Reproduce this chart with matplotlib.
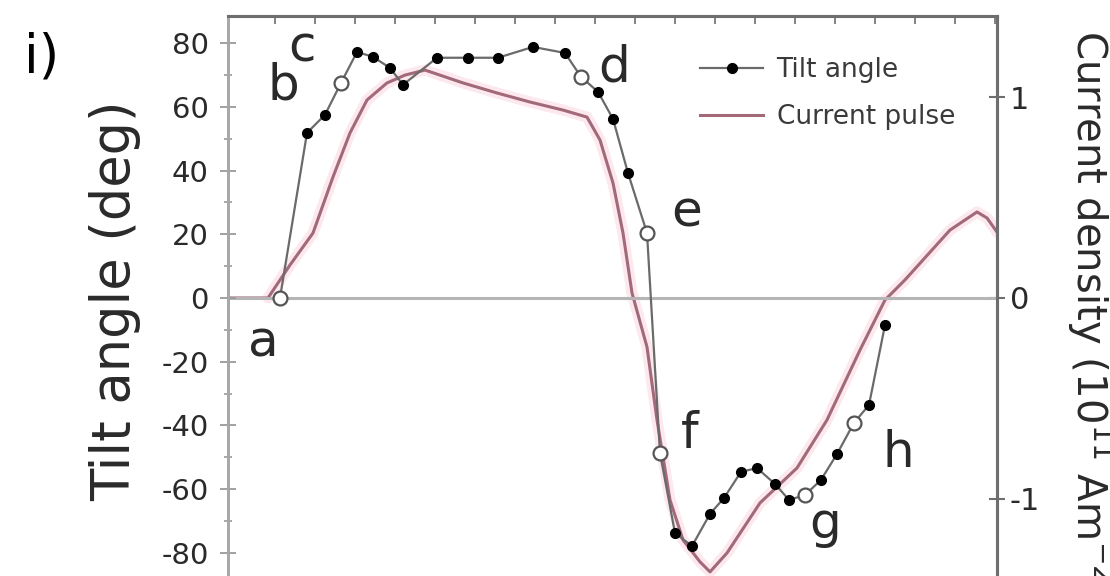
import numpy as np
import matplotlib
matplotlib.use("Agg")
import matplotlib.pyplot as plt
from matplotlib.lines import Line2D

plt.rcParams["font.family"] = ["DejaVu Sans"]
plt.rcParams["axes.unicode_minus"] = False

# Tilt angle (deg), time in tick units of the top axis
tilt_t = [1.125, 1.80, 2.25, 2.65, 3.05, 3.45, 3.875, 4.2, 5.05, 5.825, 6.575,
          7.45, 8.25, 8.65, 9.075, 9.45, 9.825, 10.3, 10.625, 11.0, 11.425,
          11.875, 12.225, 12.65, 13.05, 13.5, 13.85, 14.25, 14.65, 15.05,
          15.475, 15.85, 16.25]
tilt_deg = [0, 51.8, 57.5, 67.5, 77.2, 75.7, 72.2, 66.9, 75.4, 75.4, 75.4,
            78.8, 76.9, 69.4, 64.7, 56.2, 39.2, 20.4, -48.7, -73.8, -77.9,
            -67.8, -62.8, -54.6, -53.4, -58.4, -63.4, -61.9, -57.1, -49.0,
            -39.2, -33.6, -8.5]
open_idx = [0, 3, 13, 17, 18, 27, 30]   # hollow markers, states a..h

# Current pulse (10^11 A/m^2)
pulse_t = [-0.175, 0.825, 1.375, 1.95, 2.45, 2.875, 3.3, 3.8, 4.25, 4.75,
           5.7, 6.55, 7.375, 8.2, 8.8, 9.125, 9.45, 9.7, 9.925, 10.3, 10.55,
           10.875, 11.2, 11.625, 11.875, 12.3, 13.125, 14.05, 14.8, 15.625,
           16.25, 16.75, 17.875, 18.55, 18.8, 19.05]
pulse_j = [0, 0, 0.164, 0.323, 0.602, 0.821, 0.985, 1.070, 1.109, 1.134,
           1.070, 1.020, 0.975, 0.935, 0.900, 0.786, 0.572, 0.323, 0.025,
           -0.244, -0.607, -1.005, -1.204, -1.313, -1.363, -1.269, -1.020,
           -0.846, -0.607, -0.259, -0.010, 0.090, 0.338, 0.428, 0.398, 0.328]

state_names = ["a", "b", "c", "d", "e", "f", "g", "h"]
state_t = [0.7, 1.2, 1.675, 9.475, 11.3, 11.375, 14.75, 16.575]
state_deg = [-18.5, 62.2, 74.1, 67.8, 22.3, -47.1, -75.4, -53.1]

TILT_LINE = "#6a6a6a"
PULSE = "#a26a78"
SPINE = "#6e6e6e"
TXT = "#2a2a2a"

fig = plt.figure(figsize=(11.1, 5.76), dpi=100)
ax = fig.add_axes([0.2054, -0.0703, 0.6928, 1.0425])
ax2 = ax.twinx()

# current pulse on the right axis (drawn below the tilt data)
ax2.plot(pulse_t[1:], pulse_j[1:], color="#fce8ee", lw=8, solid_capstyle="round", zorder=1)
ax2.plot(pulse_t, pulse_j, color=PULSE, lw=2.2, zorder=2)
ax2.set_ylim(-1.585, 1.403)

ax.set_zorder(ax2.get_zorder() + 1)
ax.patch.set_visible(False)

ax.axhline(0, color="#b5b5b5", lw=2.2, zorder=0)
ax.plot(tilt_t, tilt_deg, color=TILT_LINE, lw=1.6, marker="o", ms=7,
        mfc="black", mec="black", zorder=3)
ax.plot([tilt_t[i] for i in open_idx], [tilt_deg[i] for i in open_idx],
        ls="none", marker="o", ms=10, mfc="white", mec="#555555", mew=1.6, zorder=4)

for name, x, y in zip(state_names, state_t, state_deg):
    ax.text(x, y, name, fontsize=36, color=TXT, ha="center", va="baseline", zorder=5)

ax.set_xlim(-0.175, 19.05)
ax.set_ylim(-100, 88.5)

# axis cosmetics
ax.set_yticks(np.arange(-80, 81, 20))
ax.set_yticks(np.arange(-90, 86, 10), minor=True)
ax.tick_params(axis="y", which="major", direction="inout", length=12, width=1.3,
               colors="#9a9a9a", labelcolor=TXT, labelsize=21, pad=8)
ax.tick_params(axis="y", which="minor", direction="inout", length=6, width=1.2,
               colors="#9a9a9a")
ax.xaxis.tick_top()
ax.set_xticks(np.arange(1, 20))
ax.tick_params(axis="x", which="major", direction="in", length=6, width=1.2,
               colors=SPINE, labeltop=False, labelbottom=False)

ax2.set_yticks([-1, 0, 1])
ax2.tick_params(axis="y", direction="inout", length=12, width=1.5,
                colors=SPINE, labelcolor=TXT, labelsize=22, pad=3)

for a in (ax, ax2):
    a.spines["bottom"].set_visible(False)
    a.spines["top"].set_color(SPINE)
    a.spines["top"].set_linewidth(2.2)
    a.spines["right"].set_color(SPINE)
    a.spines["right"].set_linewidth(2.2)
    a.spines["left"].set_color("#a8a8a8")
    a.spines["left"].set_linewidth(2.0)

ax.set_ylabel("Tilt angle (deg)", fontsize=38, color=TXT)
ax.yaxis.set_label_coords(-0.113, 0.525)
ax2.set_ylabel("Current density (10$^{11}$ Am$^{-2}$)", fontsize=29, color=TXT,
               rotation=270, va="center")
ax2.yaxis.set_label_coords(1.121, 0.505)

handles = [
    Line2D([], [], color=TILT_LINE, lw=1.6, marker="o", ms=7, mfc="black", mec="black"),
    Line2D([], [], color=PULSE, lw=2.2),
]
ax.legend(handles, ["Tilt angle", "Current pulse"], loc="upper left",
          bbox_to_anchor=(700 / 1110, 1 - 57 / 576), bbox_transform=fig.transFigure,
          frameon=False, fontsize=19, handlelength=2.4, handletextpad=0.5,
          labelspacing=0.8, borderpad=0, borderaxespad=0, labelcolor="#3a3a3a")

fig.text(0.022, 0.90, "i)", fontsize=38, color="black", ha="left", va="center")

fig.savefig("out.png", dpi=100)
